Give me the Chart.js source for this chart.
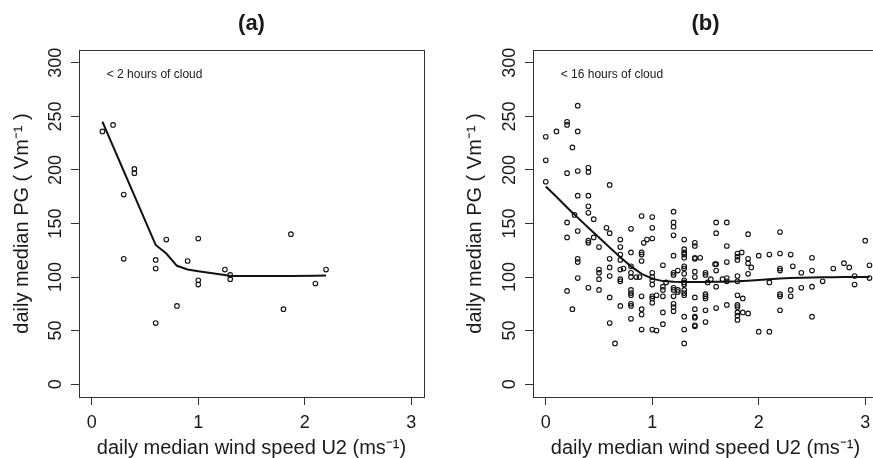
<!DOCTYPE html>
<html>
<head>
<meta charset="utf-8">
<title>Daily median PG against wind speed</title>
<script src="https://cdn.jsdelivr.net/npm/chart.js"></script>
<style>
html, body { margin: 0; padding: 0; background: #fff; overflow: hidden; }
#wrap { position: relative; width: 873px; height: 458px; overflow: hidden; }
canvas { position: absolute; top: 0; }
#chartA { left: 0; }
#chartB { left: 436px; }
</style>
</head>
<body>
<div id="wrap">
  <canvas id="chartA" width="436" height="458"></canvas>
  <canvas id="chartB" width="460" height="458"></canvas>
</div>
<script>
// axis ticks, shared by both panels
const xTicks = [0, 1, 2, 3];
const yTicks = [0, 50, 100, 150, 200, 250, 300];

// panel (a): < 2 hours of cloud  (wind column -> PG values in that column)
const windColsA = [0.1, 0.2, 0.3, 0.4, 0.6, 0.7, 0.8, 0.9, 1.0, 1.25, 1.3, 1.8, 1.87, 2.1, 2.2];
const pgColsA = [
  [236], [242], [177, 117], [201, 197], [116, 108, 57], [135], [73], [115],
  [136, 97, 93], [107], [102, 98], [70], [140], [94], [107]
];
const smoothWindA = [0.1, 0.2, 0.3, 0.4, 0.6, 0.7, 0.8, 0.9, 1.0, 1.25, 1.3, 1.8, 1.87, 2.1, 2.2];
const smoothPgA = [245, 222, 199, 176, 130, 122, 110.5, 107, 105.5, 102, 101, 101, 101, 101.3, 101.5];

// panel (b): < 16 hours of cloud
const windColsB = [
  0, 0.1, 0.2, 0.25, 0.27, 0.3, 0.4, 0.45, 0.5, 0.57, 0.6, 0.65, 0.7, 0.73, 0.8, 0.85, 0.88,
  0.9, 0.92, 0.95, 1.0, 1.04, 1.1, 1.13, 1.2, 1.24, 1.3, 1.4, 1.45, 1.5, 1.52, 1.55, 1.59,
  1.6, 1.66, 1.7, 1.8, 1.84, 1.85, 1.9, 1.93, 2.0, 2.1, 2.2, 2.3, 2.32, 2.4, 2.5, 2.6, 2.7,
  2.8, 2.85, 2.9, 3.0, 3.04
];
const pgColsB = [
  [231, 209, 189],
  [236],
  [245, 242, 197, 151, 137, 87],
  [221, 70],
  [158],
  [260, 236, 199, 176, 143, 117, 114, 99],
  [202, 198, 176, 166, 160, 134, 132, 90],
  [154, 137],
  [128, 107, 104, 98, 88],
  [146],
  [186, 141, 117, 109, 101, 81, 57],
  [38],
  [135, 128, 121, 116, 107, 98, 96, 73],
  [108],
  [145, 123, 110, 104, 100, 88, 85, 83, 75, 73, 61],
  [100],
  [100],
  [157, 123, 121, 115, 82, 70, 65, 51],
  [132],
  [135],
  [156, 146, 136, 104, 100, 97, 93, 82, 80, 76, 51],
  [83, 50],
  [111, 91, 88, 82, 67, 56],
  [95],
  [161, 151, 147, 139, 120, 104, 102, 90, 88, 82, 75, 72, 68],
  [106, 88, 86],
  [135, 126, 123, 121, 118, 110, 108, 103, 97, 95, 93, 88, 85, 83, 63, 51, 38],
  [132, 129, 118, 117, 105, 100, 81, 70, 63, 62, 55, 54],
  [118],
  [104, 102, 84, 82, 80, 69, 58],
  [95],
  [98],
  [112],
  [151, 141, 112, 106, 91, 71],
  [98],
  [151, 129, 114, 99, 96, 74],
  [122, 119, 116, 101, 96, 83, 74, 72, 67, 64, 60],
  [123],
  [80, 67],
  [140, 117, 113, 103, 66],
  [109],
  [120, 49],
  [121, 95, 49],
  [142, 122, 108, 106, 84, 82, 69],
  [121, 88, 82],
  [110],
  [104, 90],
  [118, 106, 91, 63],
  [96],
  [108],
  [113],
  [109],
  [101, 93],
  [134],
  [111, 99]
];
const smoothWindB = [0, 0.1, 0.2, 0.25, 0.3, 0.4, 0.5, 0.6, 0.7, 0.8, 0.9, 1.0, 1.1, 1.2, 1.3, 1.4, 1.5,
  1.6, 1.7, 1.8, 1.9, 2.0, 2.1, 2.2, 2.3, 2.4, 2.5, 2.6, 2.7, 2.8, 2.9, 3.0, 3.04];
const smoothPgB = [184.5, 175, 165, 160, 155.5, 146, 137, 127.5, 118.5, 110, 103, 98.5, 96.2, 95.5, 95.3,
  95.3, 95.4, 95.5, 95.7, 96, 96.6, 97.2, 98, 98.7, 99.1, 99.4, 99.6, 99.8, 99.9, 100, 100, 100, 100];

const FONT = '"Liberation Sans", Arial, Helvetica, sans-serif';
const INK = '#1a1a1a';

function cols(xs, ys) { return xs.flatMap((x, i) => ys[i].map(y => ({x: x, y: y}))); }
function pairs(xs, ys) { return xs.map((x, i) => ({x: x, y: ys[i]})); }

// frame box, panel title and the cloud note
const panelText = {
  id: 'panelText',
  afterDraw(chart, args, o) {
    const {ctx, chartArea: a, scales} = chart;
    ctx.save();
    ctx.strokeStyle = '#333';
    ctx.lineWidth = 1;
    ctx.strokeRect(Math.round(a.left) + 0.5, Math.round(a.top) + 0.5, Math.round(a.width), Math.round(a.height));
    ctx.fillStyle = INK;
    ctx.font = 'bold 22px ' + FONT;
    ctx.textAlign = 'center';
    ctx.textBaseline = 'alphabetic';
    ctx.fillText(o.title, (a.left + a.right) / 2, 30);
    ctx.font = '12px ' + FONT;
    ctx.textAlign = 'left';
    ctx.textBaseline = 'middle';
    ctx.fillText(o.note, scales.x.getPixelForValue(0.14), scales.y.getPixelForValue(289));
    ctx.restore();
  }
};

function makeChart(id, g, title, note, points, smooth) {
  const canvas = document.getElementById(id);
  return new Chart(canvas, {
    type: 'scatter',
    data: {
      datasets: [
        { type: 'line', data: smooth, borderColor: '#111', borderWidth: 2, pointRadius: 0, tension: 0, fill: false },
        { data: points, pointStyle: 'circle', pointRadius: 2.3, pointBorderWidth: 1.1, borderWidth: 1.1,
          borderColor: '#111', backgroundColor: 'rgba(0,0,0,0)' }
      ]
    },
    options: {
      responsive: false,
      animation: false,
      devicePixelRatio: 1,
      layout: { padding: { top: g.top, right: canvas.width - g.right, bottom: 0, left: 0 } },
      plugins: {
        legend: { display: false },
        tooltip: { enabled: false },
        panelText: { title: title, note: note }
      },
      scales: {
        x: {
          type: 'linear', min: -0.12, max: 3.12,
          afterBuildTicks: s => { s.ticks = xTicks.map(v => ({value: v})); },
          afterFit: s => { s.height = canvas.height - g.bottom; },
          grid: { drawOnChartArea: false, drawTicks: true, tickLength: 8, color: '#333' },
          border: { display: false },
          ticks: { color: INK, font: { family: FONT, size: 18 }, padding: 7, maxRotation: 0, autoSkip: false },
          title: { display: true, text: 'daily median wind speed U2 (ms⁻¹)', color: INK,
                   font: { family: FONT, size: 20 }, padding: { top: 0, bottom: -2 } }
        },
        y: {
          type: 'linear', min: -12, max: 312,
          afterBuildTicks: s => { s.ticks = yTicks.map(v => ({value: v})); },
          afterFit: s => { s.width = g.left; },
          grid: { drawOnChartArea: false, drawTicks: true, tickLength: 8, color: '#333' },
          border: { display: false },
          ticks: { color: INK, font: { family: FONT, size: 18 }, padding: 0, minRotation: 90, maxRotation: 90,
                   crossAlign: 'center', autoSkip: false },
          title: { display: true, text: 'daily median PG ( Vm⁻¹ )', color: INK,
                   font: { family: FONT, size: 20 }, padding: { top: g.titlePad, bottom: 0 } }
        }
      }
    },
    plugins: [panelText]
  });
}

makeChart('chartA', { left: 79, top: 50, right: 424, bottom: 397, titlePad: 10 },
  '(a)', '< 2 hours of cloud', cols(windColsA, pgColsA), pairs(smoothWindA, smoothPgA));
makeChart('chartB', { left: 97, top: 50, right: 442, bottom: 397, titlePad: 27 },
  '(b)', '< 16 hours of cloud', cols(windColsB, pgColsB), pairs(smoothWindB, smoothPgB));
</script>
</body>
</html>
